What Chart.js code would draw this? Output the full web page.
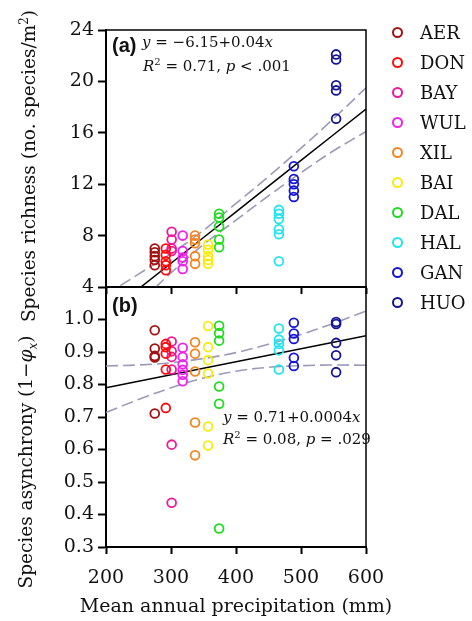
<!DOCTYPE html>
<html>
<head>
<meta charset="utf-8">
<script src="https://cdn.jsdelivr.net/npm/chart.js@4.4.1/dist/chart.umd.min.js"></script>
<style>
  html, body { margin: 0; padding: 0; background: #fff; }
  #wrap { position: relative; width: 472px; height: 621px; font-family: "DejaVu Serif", serif; color: #111; overflow: hidden; }
  #wrap canvas { position: absolute; left: 0; top: 0; }
  .lab { position: absolute; white-space: nowrap; line-height: 1; }
  .tag { font-family: "Liberation Sans", sans-serif; font-weight: bold; font-size: 20px; }
  .eq { font-size: 15px; }
  .rot { transform: translate(-50%, -50%) rotate(-90deg); font-size: 18.5px; }
  #legend { position: absolute; left: 392px; top: 17px; }
  .row { height: 30px; display: flex; align-items: center; font-size: 18px; }
  .dot { width: 7px; height: 7px; border-radius: 50%; border: 2.6px solid; margin-right: 17px; }
</style>
</head>
<body>
<div id="wrap">
  <canvas id="richChart" width="472" height="621"></canvas>
  <canvas id="asynChart" width="472" height="621"></canvas>

  <div class="lab tag" style="left:112px; top:35px;">(a)</div>
  <div class="lab eq" style="left:142px; top:35px;"><i>y</i> = −6.15+0.04<i>x</i></div>
  <div class="lab eq" style="left:143px; top:57px;"><i>R</i><sup style="font-size:10px">2</sup> = 0.71, <i>p</i> &lt; .001</div>

  <div class="lab tag" style="left:112px; top:295px;">(b)</div>
  <div class="lab eq" style="left:223px; top:410px;"><i>y</i> = 0.71+0.0004<i>x</i></div>
  <div class="lab eq" style="left:223px; top:430px;"><i>R</i><sup style="font-size:10px">2</sup> = 0.08, <i>p</i> = .029</div>

  <div class="lab rot" style="left:28px; top:166px;">Species richness (no. species/m<sup style="font-size:12px">2</sup>)</div>
  <div class="lab rot" style="left:28px; top:462px;">Species asynchrony (1−<i>φ</i><sub style="font-size:12px"><i>x</i></sub>)</div>
  <div class="lab" style="left:236px; top:605px; transform:translate(-50%,-50%); font-size:19px;">Mean annual precipitation (mm)</div>

  <div id="legend"></div>
</div>

<script>
// ===== DATA =====
const sites = ["AER", "DON", "BAY", "WUL", "XIL", "BAI", "DAL", "HAL", "GAN", "HUO"];
const siteColors = ["#a31212", "#ff0a0a", "#f0189a", "#ee22ee", "#f5851f", "#f7ec10", "#1fdc1f", "#22e4ee", "#1515d8", "#141496"];
const siteMAP = [275, 292, 301, 318, 337, 357, 374, 466, 489, 554];

// species richness per site (no. species/m2)
const richness = [
  [7.0, 6.7, 6.4, 6.1, 5.7],
  [7.0, 6.5, 6.0, 5.7, 5.3],
  [8.3, 7.7, 7.0, 6.8],
  [8.0, 6.8, 6.3, 6.0, 5.4],
  [8.0, 7.7, 7.4, 6.4, 5.8],
  [7.3, 6.9, 6.4, 6.1, 5.8],
  [9.7, 9.4, 8.7, 7.7, 7.1],
  [10.0, 9.7, 9.3, 8.5, 8.1, 6.0],
  [13.4, 12.4, 12.0, 11.5, 11.0],
  [22.1, 21.7, 19.7, 19.3, 17.1],
];

// species asynchrony per site (1 - phi_x)
const asynchrony = [
  [0.967, 0.911, 0.888, 0.883, 0.711],
  [0.925, 0.915, 0.895, 0.846, 0.728],
  [0.932, 0.902, 0.885, 0.846, 0.615, 0.436],
  [0.913, 0.885, 0.862, 0.845, 0.830, 0.810],
  [0.930, 0.895, 0.840, 0.683, 0.582],
  [0.980, 0.915, 0.875, 0.834, 0.671, 0.612],
  [0.981, 0.958, 0.935, 0.794, 0.741, 0.357],
  [0.972, 0.938, 0.925, 0.905, 0.846],
  [0.990, 0.957, 0.940, 0.882, 0.857],
  [0.992, 0.986, 0.928, 0.890, 0.838],
];

// fitted lines and 95% bands
const fitX = [200, 250, 300, 350, 400, 450, 500, 550, 600];
const richFit = [1.85, 3.85, 5.85, 7.85, 9.85, 11.85, 13.85, 15.85, 17.85];
const richUpper = [3.4, 5.0, 6.6, 8.4, 10.5, 12.6, 14.8, 17.1, 19.5];
const richLower = [0.3, 2.7, 5.1, 7.3, 9.2, 11.1, 12.9, 14.6, 16.1];
const asynFit = [0.79, 0.81, 0.83, 0.85, 0.87, 0.89, 0.91, 0.93, 0.95];
const asynUpper = [0.857, 0.860, 0.867, 0.880, 0.898, 0.924, 0.954, 0.988, 1.026];
const asynLower = [0.714, 0.754, 0.790, 0.820, 0.841, 0.853, 0.858, 0.860, 0.859];

const xTicks = [200, 300, 400, 500, 600];

Chart.defaults.font.family = "'DejaVu Serif', serif";
Chart.defaults.color = "#111";

// ===== HELPERS =====
function toPoints(xs, ys) {
  return ys.map((y, i) => ({ x: xs[i], y: y }));
}

function siteDatasets(values) {
  return sites.map((name, i) => ({
    label: name,
    data: values[i].map((v) => ({ x: siteMAP[i], y: v })),
    borderColor: siteColors[i],
    backgroundColor: "rgba(0,0,0,0)",
    pointRadius: 4.4,
    borderWidth: 1.8,
    pointHoverRadius: 4.4,
    order: 1,
  }));
}

function lineDatasets(fit, upper, lower) {
  const band = {
    type: "line",
    borderColor: "#9b9bb8",
    borderWidth: 1.6,
    borderDash: [12, 5],
    pointRadius: 0,
    tension: 0.35,
    fill: false,
    order: 2,
  };
  return [
    Object.assign({}, band, { label: "upper", data: toPoints(fitX, upper) }),
    Object.assign({}, band, { label: "lower", data: toPoints(fitX, lower) }),
    {
      type: "line",
      label: "fit",
      data: toPoints(fitX, fit),
      borderColor: "#000",
      borderWidth: 1.5,
      pointRadius: 0,
      fill: false,
      order: 2,
    },
  ];
}

function xAxis(showLabels, height) {
  return {
    type: "linear",
    min: 200,
    max: 600,
    afterBuildTicks: (s) => { s.ticks = xTicks.map((v) => ({ value: v })); },
    ticks: { display: showLabels, font: { size: 19 }, padding: 13, maxRotation: 0 },
    grid: { drawOnChartArea: false, drawTicks: true, tickLength: 7, tickWidth: 2, tickColor: "#000" },
    border: { display: true, color: "#000", width: 2 },
    afterFit: (s) => { s.height = height; },
  };
}

function yAxis(min, max, step, top, fmt) {
  return {
    type: "linear",
    min: min,
    max: max,
    afterBuildTicks: (s) => {
      s.ticks = [];
      for (let v = min; v <= top + 1e-6; v += step) s.ticks.push({ value: +v.toFixed(2) });
    },
    ticks: { font: { size: 19 }, padding: 4, callback: fmt },
    grid: { drawOnChartArea: false, drawTicks: true, tickLength: 8, tickWidth: 2, tickColor: "#000" },
    border: { display: true, color: "#000", width: 2 },
    afterFit: (s) => { s.width = 106; },
  };
}

const boxPlugin = {
  id: "box",
  afterDraw(chart) {
    const { ctx, chartArea: a } = chart;
    ctx.save();
    ctx.strokeStyle = "#000";
    ctx.lineWidth = 1.5;
    ctx.beginPath();
    ctx.moveTo(a.left, a.top);
    ctx.lineTo(a.right, a.top);
    ctx.lineTo(a.right, a.bottom);
    ctx.stroke();
    ctx.restore();
  },
};

function commonOptions(padding, xs, ys) {
  return {
    responsive: false,
    animation: false,
    layout: { padding: padding },
    plugins: { legend: { display: false }, tooltip: { enabled: false } },
    scales: { x: xs, y: ys },
  };
}

// ===== CHARTS =====
new Chart(document.getElementById("richChart"), {
  type: "scatter",
  data: { datasets: lineDatasets(richFit, richUpper, richLower).concat(siteDatasets(richness)) },
  options: commonOptions(
    { left: 0, top: 30, right: 106, bottom: 321 },
    xAxis(false, 13),
    yAxis(4, 24, 4, 24, (v) => v)
  ),
  plugins: [boxPlugin],
});

new Chart(document.getElementById("asynChart"), {
  type: "scatter",
  data: { datasets: lineDatasets(asynFit, asynUpper, asynLower).concat(siteDatasets(asynchrony)) },
  options: commonOptions(
    { left: 0, top: 287, right: 106, bottom: 0 },
    xAxis(true, 74),
    yAxis(0.3, 1.1, 0.1, 1.0, (v) => Number(v).toFixed(1))
  ),
  plugins: [boxPlugin],
});

// ===== LEGEND =====
const legend = document.getElementById("legend");
sites.forEach((name, i) => {
  const row = document.createElement("div");
  row.className = "row";
  row.innerHTML = `<span class="dot" style="border-color:${siteColors[i]}"></span>${name}`;
  legend.appendChild(row);
});
</script>
</body>
</html>
